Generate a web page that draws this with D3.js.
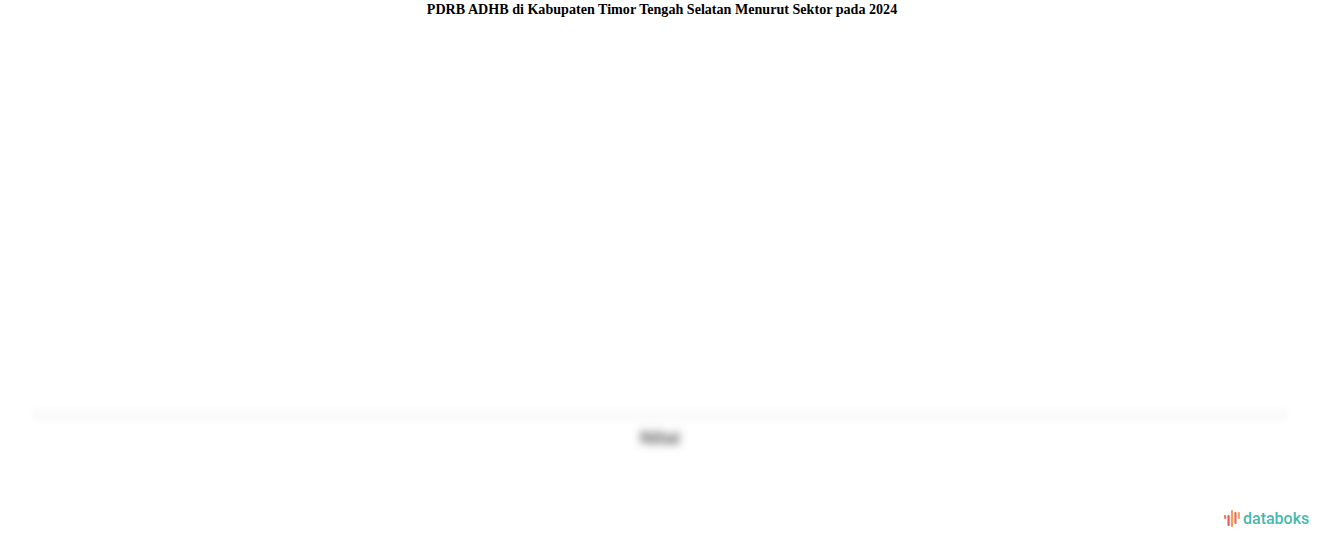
<!DOCTYPE html>
<html>
<head>
<meta charset="utf-8">
<script src="https://cdn.jsdelivr.net/npm/d3@7"></script>
<style>
  html, body { margin: 0; padding: 0; background: #fff; }
  svg { display: block; }
</style>
</head>
<body>
<svg id="chart" width="1324" height="547"></svg>
<script>
// ---- data (chart content is hidden/blurred in the source) ----
const titleText = "PDRB ADHB di Kabupaten Timor Tengah Selatan Menurut Sektor pada 2024";
const legendLabels = ["Nilai"];
const axisDomain = [0, 1];
const logoBars = [
  { h: 4,  c: "#f07a5a" },
  { h: 11, c: "#ec5b5b" },
  { h: 17, c: "#f2a05a" },
  { h: 12, c: "#ec6a62" },
  { h: 7,  c: "#f2a86a" }
];
const logoBarOffsets = [1, 1, -4, -2, -2];

// ---- drawing ----
const W = 1324, H = 547;
const svg = d3.select("#chart");
const defs = svg.append("defs");
defs.append("filter").attr("id", "blurBig").attr("x", "-50%").attr("y", "-100%")
  .attr("width", "200%").attr("height", "300%")
  .append("feGaussianBlur").attr("stdDeviation", 4.5);
defs.append("filter").attr("id", "blurSmall").attr("x", "-20%").attr("y", "-200%")
  .attr("width", "140%").attr("height", "500%")
  .append("feGaussianBlur").attr("stdDeviation", 3);

// Title
svg.append("text")
  .attr("x", W / 2).attr("y", 14)
  .attr("text-anchor", "middle")
  .attr("font-family", "'Liberation Serif', 'Times New Roman', serif")
  .attr("font-weight", "bold")
  .attr("font-size", 14.1)
  .attr("fill", "#000")
  .text(titleText);

// Blurred axis band (chart body is obscured)
const x = d3.scaleLinear().domain(axisDomain).range([32, 1288]);
svg.append("rect")
  .attr("x", x(axisDomain[0])).attr("y", 408)
  .attr("width", x(axisDomain[1]) - x(axisDomain[0])).attr("height", 14)
  .attr("rx", 7)
  .attr("fill", "#fafafa")
  .attr("filter", "url(#blurSmall)");

// Blurred legend label
svg.selectAll("text.legend").data(legendLabels).join("text")
  .attr("class", "legend")
  .attr("x", 660).attr("y", 444)
  .attr("text-anchor", "middle")
  .attr("font-family", "'Liberation Sans', Arial, sans-serif")
  .attr("font-size", 19)
  .attr("font-weight", "bold")
  .attr("fill", "#5a5a5a")
  .attr("filter", "url(#blurBig)")
  .text(d => d);

// databoks logo
const logo = svg.append("g").attr("transform", "translate(1224,0)");
const bx = d3.scaleBand().domain(d3.range(logoBars.length)).range([0, 16]).paddingInner(0.35);
logo.selectAll("rect").data(logoBars).join("rect")
  .attr("x", (d, i) => bx(i))
  .attr("y", (d, i) => 514 + logoBarOffsets[i])
  .attr("width", bx.bandwidth())
  .attr("height", d => d.h)
  .attr("rx", 1)
  .attr("fill", d => d.c);
svg.append("text")
  .attr("x", 1243).attr("y", 524)
  .attr("font-family", "Roboto, 'Open Sans', sans-serif")
  .attr("font-weight", 500)
  .attr("font-size", 16)
  .attr("fill", "#47b9ac")
  .text("databoks");
</script>
</body>
</html>
